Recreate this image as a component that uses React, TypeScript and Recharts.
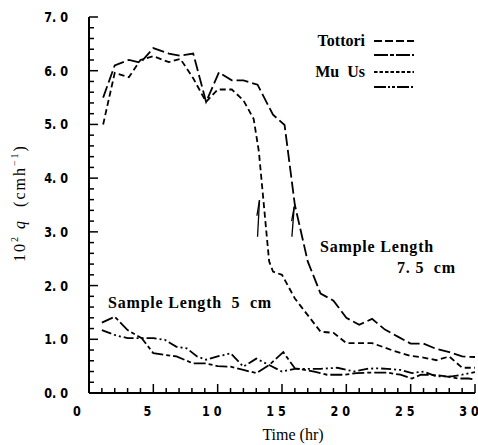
import React from 'react';
import { LineChart, Line, XAxis, YAxis, ReferenceLine } from 'recharts';

// time (hr) and 10^2 q (cm/h)
const tottori75Time = [1.1, 2.0, 3.1, 4.0, 5.0, 6.2, 7.1, 8.1, 9.1, 10.1, 11.1, 12.0, 13.1, 14.3, 15.2, 16.0, 17.0, 18.0, 19.0, 20.0, 21.0, 22.0, 23.0, 24.0, 25.0, 26.0, 27.0, 28.0, 29.0, 30.0];
const tottori75Q = [5.5, 6.1, 6.2, 6.15, 6.42, 6.32, 6.28, 6.32, 5.42, 5.97, 5.82, 5.82, 5.74, 5.18, 4.99, 3.5, 2.45, 1.85, 1.72, 1.4, 1.27, 1.38, 1.18, 1.05, 0.92, 0.92, 0.82, 0.76, 0.68, 0.67];

const muUs75Time = [1.1, 2.0, 3.1, 4.0, 5.0, 6.2, 7.1, 8.1, 9.1, 10.0, 11.1, 12.0, 12.8, 13.2, 14.0, 14.3, 15.0, 16.0, 17.0, 18.0, 19.0, 20.0, 22.0, 23.5, 25.0, 26.0, 27.0, 28.0, 29.0, 30.0];
const muUs75Q = [5.0, 5.96, 5.88, 6.2, 6.27, 6.16, 6.22, 5.86, 5.42, 5.65, 5.65, 5.45, 5.1, 4.5, 2.45, 2.26, 2.2, 1.76, 1.45, 1.14, 1.12, 0.93, 0.93, 0.8, 0.69, 0.66, 0.61, 0.68, 0.47, 0.47];

const tottori5Time = [1.0, 2.0, 3.0, 4.1, 5.0, 5.9, 6.8, 8.1, 9.1, 10.0, 11.0, 12.0, 13.0, 14.0, 15.1, 16.0, 17.5, 18.5, 19.8, 20.8, 21.9, 23.2, 24.2, 25.1, 25.8, 27.2, 28.7, 29.5, 30.0];
const tottori5Q = [1.31, 1.42, 1.17, 1.02, 0.74, 0.71, 0.68, 0.55, 0.55, 0.5, 0.49, 0.43, 0.37, 0.52, 0.76, 0.46, 0.4, 0.34, 0.34, 0.37, 0.38, 0.38, 0.34, 0.27, 0.34, 0.33, 0.27, 0.27, 0.25];

const muUs5Time = [1.0, 2.0, 3.0, 4.1, 5.0, 5.9, 6.8, 7.6, 8.4, 9.1, 10.0, 11.0, 12.0, 13.0, 14.0, 15.0, 16.0, 18.0, 19.3, 20.6, 21.6, 22.4, 23.2, 24.2, 25.1, 26.0, 27.0, 28.2, 29.0, 30.0];
const muUs5Q = [1.17, 1.08, 1.02, 1.02, 1.02, 0.99, 0.86, 0.83, 0.68, 0.62, 0.68, 0.74, 0.49, 0.64, 0.52, 0.4, 0.45, 0.45, 0.47, 0.4, 0.45, 0.46, 0.45, 0.43, 0.37, 0.4, 0.31, 0.31, 0.34, 0.39];

const xTicks = [0, 1, 2, 3, 4, 5, 6, 7, 8, 9, 10, 11, 12, 13, 14, 15, 16, 17, 18, 19, 20, 21, 22, 23, 24, 25, 26, 27, 28, 29, 30];
const yTicks = [0, 0.2, 0.4, 0.6, 0.8, 1, 1.2, 1.4, 1.6, 1.8, 2, 2.2, 2.4, 2.6, 2.8, 3, 3.2, 3.4, 3.6, 3.8, 4, 4.2, 4.4, 4.6, 4.8, 5, 5.2, 5.4, 5.6, 5.8, 6, 6.2, 6.4, 6.6, 6.8, 7];

const zip = (t: number[], q: number[]) => t.map((v, i) => ({ t: v, q: q[i] }));

const series = [
  { key: 'tottori75', label: 'Tottori', data: zip(tottori75Time, tottori75Q), dash: '12 4', legendDash: '8 3' },
  { key: 'tottori5', label: '', data: zip(tottori5Time, tottori5Q), dash: '12 3 4 3', legendDash: '14 2 4 2' },
  { key: 'muUs75', label: 'Mu  Us', data: zip(muUs75Time, muUs75Q), dash: '6 3.5', legendDash: '3.5 2' },
  { key: 'muUs5', label: '', data: zip(muUs5Time, muUs5Q), dash: '10 3 2 3 2 3', legendDash: '12 2 2 2 3 2' },
];

const tickFont = { fontFamily: 'DejaVu Sans', fontWeight: 700, fontSize: 14, fill: '#000' };
const serif = '"Liberation Serif", "DejaVu Serif", serif';

const isMajor = (v: number) => Math.abs(v - Math.round(v)) < 1e-6;

const BottomTick = (props: any) => {
  const { x, y, payload } = props;
  const v = payload.value;
  const major = v % 5 === 0;
  const s = String(v);
  return (
    <g>
      <line x1={x} y1={y} x2={x} y2={y - (major ? 9 : 5)} stroke="#000" strokeWidth={1.5} />
      {major && (
        <text transform={`translate(${x - (v === 0 ? 12 : 6)},${y + 23}) scale(0.8,1)`} textAnchor="middle" {...tickFont}>
          {s[0]}
          {s.length > 1 && <tspan dx={5}>{s.slice(1)}</tspan>}
        </text>
      )}
    </g>
  );
};

const TopTick = (props: any) => {
  const { x, y, payload } = props;
  const major = payload.value % 5 === 0;
  return <line x1={x} y1={y} x2={x} y2={y + (major ? 9 : 5)} stroke="#000" strokeWidth={1.5} />;
};

const LeftTick = (props: any) => {
  const { x, y, payload } = props;
  const v = payload.value;
  const major = isMajor(v);
  return (
    <g>
      <line x1={x} y1={y} x2={x + (major ? 9 : 5)} y2={y} stroke="#000" strokeWidth={1.5} />
      {major && (
        <text transform={`translate(${x - 21},${y + 5}) scale(0.8,1)`} textAnchor="end" {...tickFont}>
          {v.toFixed(1).replace('.', '. ')}
        </text>
      )}
    </g>
  );
};

const RightTick = (props: any) => {
  const { x, y, payload } = props;
  const major = isMajor(payload.value);
  return <line x1={x} y1={y} x2={x - (major ? 9 : 5)} y2={y} stroke="#000" strokeWidth={1.5} />;
};

const noteStyle = { fontFamily: serif, fontWeight: 700, fontSize: 16, fill: '#000', letterSpacing: 0.8 };
const pre = { whiteSpace: 'pre' as const };

export default function App() {
  const axisLine = { stroke: '#000', strokeWidth: 2 };
  return (
    <div style={{ position: 'absolute', left: 0, top: 0, background: '#fff' }}>
      <LineChart width={478} height={445} margin={{ top: 17, right: 3, bottom: 0, left: 0 }}>
        <XAxis dataKey="t" type="number" domain={[0, 30]} ticks={xTicks} interval={0} height={52}
          tickSize={0} tickMargin={0} tickLine={false} axisLine={axisLine} tick={<BottomTick />} allowDataOverflow />
        <XAxis xAxisId="top" orientation="top" dataKey="t" type="number" domain={[0, 30]} ticks={xTicks} interval={0} height={0}
          tickSize={0} tickMargin={0} tickLine={false} axisLine={axisLine} tick={<TopTick />} />
        <YAxis type="number" domain={[0, 7]} ticks={yTicks} interval={0} width={89}
          tickSize={0} tickMargin={0} tickLine={false} axisLine={axisLine} tick={<LeftTick />} allowDataOverflow />
        <YAxis yAxisId="right" orientation="right" type="number" domain={[0, 7]} ticks={yTicks} interval={0} width={0}
          tickSize={0} tickMargin={0} tickLine={false} axisLine={axisLine} tick={<RightTick />} />

        {series.map((s) => (
          <Line key={s.key} data={s.data} dataKey="q" type="linear" stroke="#000" strokeWidth={1.8}
            strokeDasharray={s.dash} dot={false} isAnimationActive={false} />
        ))}

        {/* breakthrough arrows */}
        <ReferenceLine segment={[{ x: 13.1, y: 2.91 }, { x: 13.25, y: 3.59 }]} stroke="#000" strokeWidth={1.3} ifOverflow="visible" />
        <ReferenceLine segment={[{ x: 13.25, y: 3.59 }, { x: 13.05, y: 3.3 }]} stroke="#000" strokeWidth={1.3} ifOverflow="visible" />
        <ReferenceLine segment={[{ x: 15.77, y: 2.91 }, { x: 15.95, y: 3.47 }]} stroke="#000" strokeWidth={1.3} ifOverflow="visible" />
        <ReferenceLine segment={[{ x: 15.95, y: 3.47 }, { x: 15.75, y: 3.2 }]} stroke="#000" strokeWidth={1.3} ifOverflow="visible" />

        {/* legend */}
        <g>
          {series.map((s, i) => {
            const y = [41, 55, 72, 87][i];
            return (
              <g key={s.key}>
                {s.label && (
                  <text x={365} y={y + 5} textAnchor="end" fontFamily={serif} fontWeight={700} fontSize={16} fill="#000" style={pre}>
                    {s.label}
                  </text>
                )}
                <line x1={374} x2={414} y1={y} y2={y} stroke="#000" strokeWidth={1.8} strokeDasharray={s.legendDash} />
              </g>
            );
          })}
        </g>

        {/* annotations */}
        <text x={320} y={252} {...noteStyle} style={pre}>Sample Length</text>
        <text x={397} y={273} {...noteStyle} style={pre}>{'7. 5  cm'}</text>
        <text x={108} y={308} {...noteStyle} style={pre}>{'Sample Length  5  cm'}</text>

        {/* axis titles */}
        <text x={293} y={440} textAnchor="middle" fontFamily={serif} fontSize={16} fill="#000">Time (hr)</text>
        <text transform="translate(25,203) rotate(-90)" textAnchor="middle" fontFamily={serif} fontSize={16} fill="#000" letterSpacing={2} style={pre}>
          10<tspan dy={-7} fontSize={10}>2</tspan>
          <tspan dy={7} fontStyle="italic"> q</tspan>
          <tspan>{'  (cmh'}</tspan>
          <tspan dy={-7} fontSize={10}>−1</tspan>
          <tspan dy={7}>)</tspan>
        </text>
      </LineChart>
    </div>
  );
}
